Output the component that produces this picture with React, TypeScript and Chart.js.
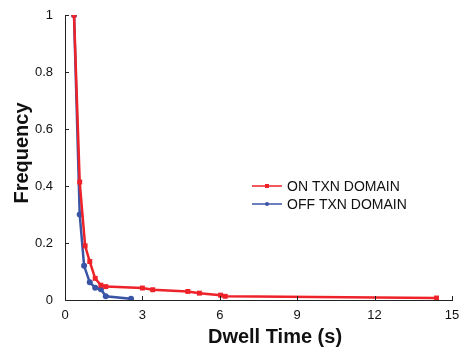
import React, { useEffect, useRef } from "react";
import { Chart, registerables } from "chart.js";
Chart.register(...registerables);

const onX = [0.35, 0.57, 0.78, 0.96, 1.17, 1.39, 1.58, 3.0, 3.4, 4.76, 5.21, 6.03, 6.21, 14.4];
const onY = [1, 0.414, 0.19, 0.135, 0.076, 0.052, 0.047, 0.042, 0.036, 0.03, 0.024, 0.017, 0.013, 0.007];
const offX = [0.35, 0.57, 0.74, 0.96, 1.17, 1.39, 1.58, 2.56];
const offY = [1, 0.3, 0.12, 0.062, 0.043, 0.038, 0.013, 0.004];
const xTicks = [0, 3, 6, 9, 12, 15];
const yTicks = [0, 0.2, 0.4, 0.6, 0.8, 1];
const seriesNames = ["ON TXN DOMAIN", "OFF TXN DOMAIN"];
const RED = "#ee2229";
const BLUE = "#3b55a6";
const FONT = "'Liberation Sans', Arial, sans-serif";

const decor = {
  id: "decor",
  afterDraw(chart: any) {
    const { ctx, chartArea: a, scales } = chart;
    const xs = scales.x, ys = scales.y;
    ctx.save();
    ctx.strokeStyle = "#222";
    ctx.lineWidth = 1;
    ctx.beginPath();
    xTicks.forEach((t) => {
      const px = Math.round(xs.getPixelForValue(t)) + 0.5;
      ctx.moveTo(px, a.bottom);
      ctx.lineTo(px, a.bottom - 4);
    });
    yTicks.forEach((t) => {
      const py = Math.round(ys.getPixelForValue(t)) + 0.5;
      ctx.moveTo(a.left, py);
      ctx.lineTo(a.left + 4, py);
    });
    ctx.stroke();
    // axis titles
    ctx.fillStyle = "#111";
    ctx.font = `bold 20px ${FONT}`;
    ctx.textAlign = "center";
    ctx.textBaseline = "middle";
    ctx.fillText("Dwell Time (s)", 275, 337);
    ctx.save();
    ctx.translate(22, 153);
    ctx.rotate(-Math.PI / 2);
    ctx.fillText("Frequency", 0, 0);
    ctx.restore();
    // legend
    const items = [
      { name: seriesNames[0], color: RED, style: "rect", y: 186 },
      { name: seriesNames[1], color: BLUE, style: "circle", y: 204 },
    ];
    ctx.font = `14px ${FONT}`;
    ctx.textAlign = "left";
    items.forEach((it) => {
      ctx.strokeStyle = it.color;
      ctx.lineWidth = 1.5;
      ctx.beginPath();
      ctx.moveTo(252, it.y);
      ctx.lineTo(282, it.y);
      ctx.stroke();
      ctx.fillStyle = it.color;
      if (it.style === "rect") ctx.fillRect(265, it.y - 2, 4, 4);
      else {
        ctx.beginPath();
        ctx.arc(267, it.y, 2, 0, Math.PI * 2);
        ctx.fill();
      }
      ctx.fillStyle = "#111";
      ctx.fillText(it.name, 287, it.y + 1);
    });
    ctx.restore();
  },
};

export default function App() {
  const ref = useRef<HTMLCanvasElement>(null);
  useEffect(() => {
    document.body.style.margin = "0";
    const chart = new Chart(ref.current!, {
      type: "line",
      data: {
        datasets: [
          {
            label: seriesNames[0],
            data: onX.map((x, i) => ({ x, y: onY[i] })),
            borderColor: RED,
            backgroundColor: RED,
            borderWidth: 2.5,
            pointStyle: "rect",
            pointRadius: 3.5,
            pointBorderWidth: 0,
          },
          {
            label: seriesNames[1],
            data: offX.map((x, i) => ({ x, y: offY[i] })),
            borderColor: BLUE,
            backgroundColor: BLUE,
            borderWidth: 2.5,
            pointStyle: "circle",
            pointRadius: 3,
            pointBorderWidth: 0,
          },
        ],
      },
      options: {
        animation: false,
        responsive: false,
        layout: { padding: { top: 15, right: 14, left: 0, bottom: 0 } },
        plugins: { legend: { display: false }, tooltip: { enabled: false } },
        scales: {
          x: {
            type: "linear",
            min: 0,
            max: 15,
            afterBuildTicks: (s: any) => { s.ticks = xTicks.map((v) => ({ value: v })); },
            afterFit: (s: any) => { s.height = 52; },
            grid: { display: false },
            border: { display: true, color: "#222", width: 1 },
            ticks: {
              color: "#111",
              padding: 0,
              font: { family: FONT, size: 13 },
              maxRotation: 0,
            },
          },
          y: {
            type: "linear",
            min: 0,
            max: 1,
            afterBuildTicks: (s: any) => { s.ticks = yTicks.map((v) => ({ value: v })); },
            afterFit: (s: any) => { s.width = 65; },
            grid: { display: false },
            border: { display: true, color: "#222", width: 1 },
            ticks: {
              color: "#111",
              padding: 4,
              font: { family: FONT, size: 13 },
              callback: (v: any) => String(Number(v)),
            },
          },
        },
      },
      plugins: [decor],
    });
    return () => chart.destroy();
  }, []);
  return <canvas ref={ref} width={466} height={352} style={{ display: "block" }} />;
}
